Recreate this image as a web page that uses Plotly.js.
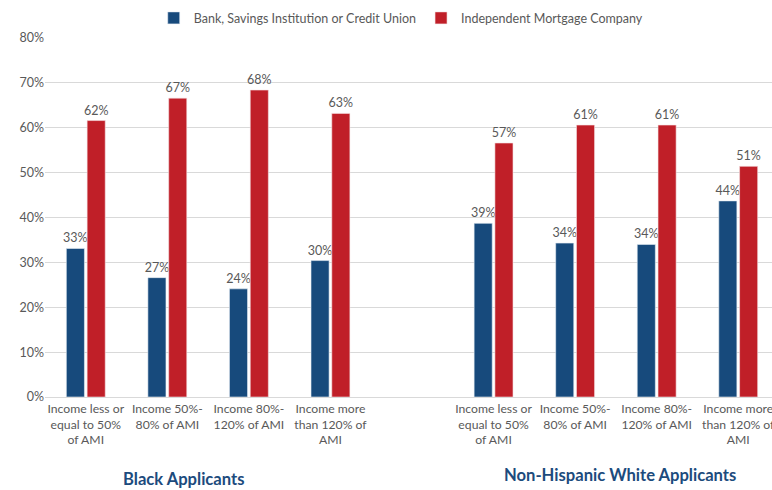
<!DOCTYPE html>
<html>
<head>
<meta charset="utf-8">
<script src="https://cdn.plot.ly/plotly-3.0.1.min.js"></script>
<style>html,body{margin:0;padding:0;background:#fff;}#chart{width:772px;height:490px;}</style>
</head>
<body>
<div id="chart"></div>
<script>
const seriesNames = ["Bank, Savings Institution or Credit Union", "Independent Mortgage Company"];
const positions = [0, 1, 2, 3, 5, 6, 7, 8];
const tickLabels = [
  "Income less or<br>equal to 50%<br>of AMI",
  "Income 50%-<br>80% of AMI",
  "Income 80%-<br>120% of AMI",
  "Income more<br>than 120% of<br>AMI",
  "Income less or<br>equal to 50%<br>of AMI",
  "Income 50%-<br>80% of AMI",
  "Income 80%-<br>120% of AMI",
  "Income more<br>than 120% of<br>AMI"
];
const bankValues = [33.1, 26.6, 24.1, 30.4, 38.7, 34.3, 34.0, 43.7];
const imcValues = [61.6, 66.6, 68.4, 63.2, 56.6, 60.6, 60.6, 51.4];
const groupTitles = ["Black Applicants", "Non-Hispanic White Applicants"];

const blue = "#174a7c";
const red = "#c01f28";
const grey = "#595959";
const font = "Lato, 'Open Sans', sans-serif";

const traces = [
  {type: "bar", name: seriesNames[0], x: positions, y: bankValues,
   marker: {color: blue, line: {color: "#e8eef5", width: 0.6}},
   texttemplate: "%{y:.0f}%", textposition: "outside", cliponaxis: false, constraintext: "none",
   textfont: {size: 12.5, color: grey, family: font}, hoverinfo: "y"},
  {type: "bar", name: seriesNames[1], x: positions, y: imcValues,
   marker: {color: red, line: {color: "#f5e3e4", width: 0.6}},
   texttemplate: "%{y:.0f}%", textposition: "outside", cliponaxis: false, constraintext: "none",
   textfont: {size: 12.5, color: grey, family: font}, hoverinfo: "y"}
];

const layout = {
  width: 772, height: 490,
  margin: {l: 45, r: 0, t: 37.5, b: 92.5},
  paper_bgcolor: "#fff", plot_bgcolor: "#fff",
  font: {family: font, size: 12, color: grey},
  barmode: "group", bargap: 0.49, bargroupgap: 0.13,
  showlegend: true,
  legend: {orientation: "h", x: 0.49, xanchor: "center", y: 1.055, yanchor: "middle",
           font: {size: 12.5, color: grey, family: font}, itemwidth: 30, traceorder: "normal"},
  xaxis: {range: [-0.5, 8.414], tickvals: positions, ticktext: tickLabels,
          tickfont: {size: 12.2, color: grey, family: font}, showgrid: false, zeroline: false,
          showline: true, linecolor: "#d9d9d9", linewidth: 1, ticks: "", fixedrange: true,
          ticklabeloverflow: "allow"},
  yaxis: {range: [0, 80], dtick: 10, ticksuffix: "%", showgrid: true, gridcolor: "#d9d9d9",
          gridwidth: 1, zeroline: false, showline: false, ticks: "",
          tickfont: {size: 12.5, color: grey, family: font}, fixedrange: true},
  annotations: [
    {text: "<b>" + groupTitles[0] + "</b>", xref: "x", yref: "paper", x: 1.2, y: -0.228,
     xanchor: "center", yanchor: "middle", showarrow: false,
     font: {size: 16.6, color: "#1c4b7d", family: font}},
    {text: "<b>" + groupTitles[1] + "</b>", xref: "x", yref: "paper", x: 6.556, y: -0.218,
     xanchor: "center", yanchor: "middle", showarrow: false,
     font: {size: 16.6, color: "#1c4b7d", family: font}}
  ]
};

Plotly.newPlot("chart", traces, layout, {displayModeBar: false, staticPlot: true});
</script>
</body>
</html>
